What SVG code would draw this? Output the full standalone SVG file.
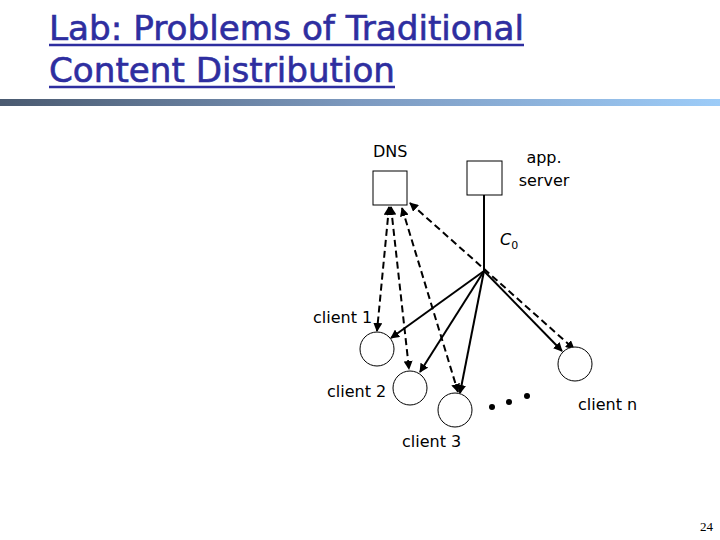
<svg xmlns="http://www.w3.org/2000/svg" width="720" height="540" viewBox="0 0 720 540">
<defs>
<linearGradient id="bar" x1="0" y1="0" x2="1" y2="0">
<stop offset="0" stop-color="#4a5a70"/>
<stop offset="0.5" stop-color="#7d9ac0"/>
<stop offset="1" stop-color="#9dccf8"/>
</linearGradient>
<marker id="ah2" viewBox="0 0 10 10" refX="9" refY="5" markerWidth="9" markerHeight="9" orient="auto-start-reverse" markerUnits="userSpaceOnUse">
<path d="M0,0 L10,5 L0,10 z" fill="#000"/>
</marker>
</defs>
<style>
.title{font-family:"DejaVu Sans","Liberation Sans",sans-serif;font-size:34px;fill:#2e2ea0;stroke:#2e2ea0;stroke-width:0.6}
.uline{stroke:#2e2ea0;stroke-width:2.5}
.lbl{font-family:"DejaVu Sans","Liberation Sans",sans-serif;font-size:16px;fill:#000}
.box{fill:#fff;stroke:#000;stroke-width:1}
.node{fill:#fff;stroke:#000;stroke-width:1}
.solid{stroke:#000;stroke-width:2;fill:none;marker-end:url(#ah2)}
.dash{stroke:#000;stroke-width:2;fill:none;stroke-dasharray:7,4;marker-end:url(#ah2);marker-start:url(#ah2)}
</style>
<rect width="720" height="540" fill="#fff"/>
<text class="title" x="49" y="40" textLength="475" lengthAdjust="spacingAndGlyphs">Lab: Problems of Traditional</text>
<line class="uline" x1="49" y1="45" x2="524" y2="45"/>
<text class="title" x="49" y="82" textLength="346" lengthAdjust="spacingAndGlyphs">Content Distribution</text>
<line class="uline" x1="49" y1="87" x2="395" y2="87"/>
<rect x="0" y="99" width="720" height="7" fill="url(#bar)"/>

<g id="connectors">
<line x1="484" y1="195" x2="484" y2="271" stroke="#000" stroke-width="2"/>
<line class="solid" x1="484" y1="271" x2="391" y2="338"/>
<line class="solid" x1="484" y1="271" x2="420" y2="372"/>
<line class="solid" x1="484" y1="271" x2="460" y2="393"/>
<line class="solid" x1="484" y1="271" x2="562" y2="351"/>
<line class="dash" x1="389" y1="207" x2="377" y2="331"/>
<line class="dash" x1="391" y1="207" x2="409" y2="369"/>
<line class="dash" x1="402" y1="208" x2="458" y2="392"/>
<line class="dash" x1="410" y1="203" x2="574" y2="349"/>
</g>

<g id="dns">
<rect class="box" x="373" y="171" width="34" height="34"/>
<text class="lbl" x="373" y="157">DNS</text>
</g>
<g id="app-server">
<rect class="box" x="467" y="161" width="35" height="34"/>
<text class="lbl" x="544" y="163" text-anchor="middle">app.</text>
<text class="lbl" x="544" y="186" text-anchor="middle">server</text>
</g>
<g id="c0">
<text class="lbl" x="500" y="245" font-style="italic">C<tspan font-size="11" font-style="normal" dy="4">0</tspan></text>
</g>
<g id="client1">
<circle class="node" cx="377" cy="349" r="17"/>
<text class="lbl" x="313" y="323">client 1</text>
</g>
<g id="client2">
<circle class="node" cx="410" cy="388" r="17"/>
<text class="lbl" x="327" y="397">client 2</text>
</g>
<g id="client3">
<circle class="node" cx="455" cy="410" r="17"/>
<text class="lbl" x="402" y="447">client 3</text>
</g>
<g id="clientn">
<circle class="node" cx="575" cy="364" r="17"/>
<text class="lbl" x="578" y="410">client n</text>
</g>
<g id="dots">
<circle cx="492" cy="407" r="3"/>
<circle cx="509" cy="402" r="3"/>
<circle cx="527" cy="396" r="3"/>
</g>
<text x="700" y="531" font-family="Liberation Serif, serif" font-size="13">24</text>
</svg>
